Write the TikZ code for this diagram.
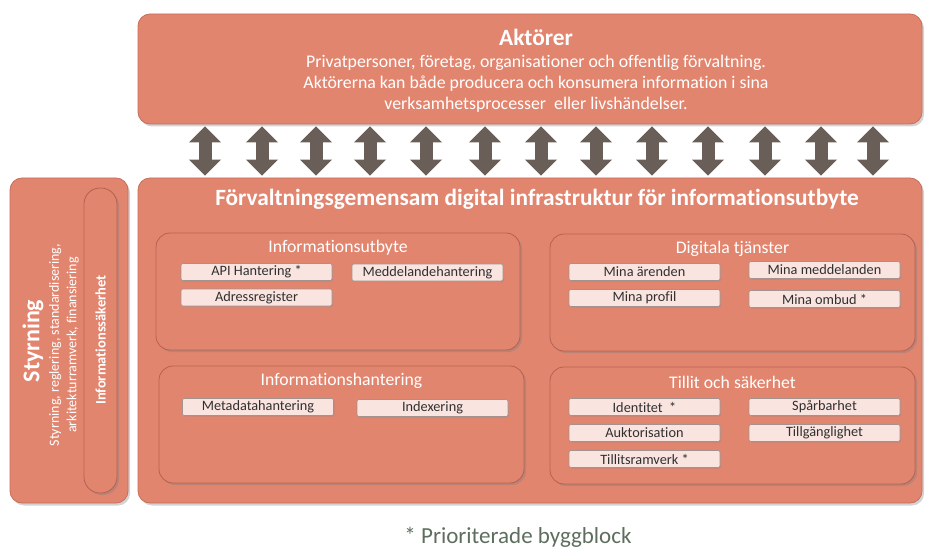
\documentclass[tikz,border=0pt]{standalone}
\usepackage{fontspec}
\setmainfont{Carlito}[Ligatures={NoCommon,NoContextual}]
\usepackage{xcolor}
\usetikzlibrary{shadows,arrows.meta}

\definecolor{laxrosa}{HTML}{E2856F}
\definecolor{laxkant}{HTML}{C66E5B}
\definecolor{delkant}{HTML}{B5614F}
\definecolor{ljusrosa}{HTML}{FAE4E0}
\definecolor{ljuskant}{HTML}{A3928D}
\definecolor{pilgra}{HTML}{6A5F58}
\definecolor{textgra}{HTML}{303030}
\definecolor{notgron}{HTML}{5E6E5E}

\begin{document}
\begin{tikzpicture}[x=1pt, y=-1pt,
  storlada/.style={draw=laxkant, line width=0.8pt, fill=laxrosa, rounded corners=12pt,
    drop shadow={shadow xshift=2pt, shadow yshift=-2.5pt, opacity=0.35},
    minimum width=784pt, inner sep=0pt},
  dellada/.style={draw=delkant, line width=0.8pt, fill=laxrosa, rounded corners=14pt,
    drop shadow={shadow xshift=2pt, shadow yshift=-2pt, opacity=0.4},
    minimum width=365pt, minimum height=117pt, inner sep=0pt},
  block/.style={draw=ljuskant, line width=0.6pt, fill=ljusrosa, rounded corners=2pt,
    drop shadow={shadow xshift=1pt, shadow yshift=-1pt, opacity=0.3},
    minimum width=151pt, minimum height=17pt, inner sep=0pt,
    font=\fontsize{14.3}{16}\selectfont, text=textgra},
  rubrik/.style={text=white, font=\bfseries\fontsize{23.3}{26}\selectfont},
  delrubrik/.style={text=white, font=\fontsize{17.7}{20}\selectfont},
  dubbelpil/.style={draw=pilgra, line width=13pt, shorten <=2pt, shorten >=2pt,
    {Triangle[width=32pt 0 0, length=16pt 0 0, line width=0pt 0 0]}-{Triangle[width=32pt 0 0, length=16pt 0 0, line width=0pt 0 0]}}]

  % Fixed frame of the page
  \useasboundingbox (0,0) rectangle (926,548);

  % Top box
  \node[storlada, minimum height=110pt] (akt) at (530,69) {};
  \node[rubrik] (akttitel) at (536,37) {Aktörer};
  \node[text=white, align=center, font=\fontsize{17.8}{21}\selectfont] (akttext) at (536,84)
    {Privatpersoner, företag, organisationer och offentlig förvaltning.\\
     Aktörerna kan både producera och konsumera information i sina\\
     verksamhetsprocesser\ \ eller livshändelser.};

  % Governance column
  \node[storlada, minimum width=118pt, minimum height=325pt] (styr) at (69,340.5) {};
  \node[draw=delkant, line width=0.8pt, fill=laxrosa, rounded corners=16pt,
    drop shadow={shadow xshift=2pt, shadow yshift=-2pt, opacity=0.4},
    minimum width=33pt, minimum height=305pt, inner sep=0pt] (sak) at (100.5,340.5) {};
  \node[rotate=90, text=white, font=\bfseries\fontsize{24}{28}\selectfont] (styrtitel) at (33,341) {Styrning};
  \node[rotate=90, text=white, align=center, font=\fontsize{14}{17.5}\selectfont] (styrtext) at (64,345)
    {Styrning, reglering, standardisering,\\ arkitekturramverk, finansiering};
  \node[rotate=90, text=white, font=\bfseries\fontsize{14.5}{17}\selectfont] (saktext) at (100.5,340) {Informationssäkerhet};

  % Main infrastructure box
  \node[storlada, minimum height=325pt] (infra) at (530,340.5) {};
  \node[rubrik] (infratitel) at (537,199) {Förvaltningsgemensam digital infrastruktur för informationsutbyte};

  % Arrows between actors and infrastructure
  \foreach \x in {205,262,316,370,426,485,541,596,652,708,765,821,873} {
    \path (\x,0) coordinate (px);
    \draw[dubbelpil] (akt.south -| px) -- (infra.north -| px);
  }

  % Inner boxes
  \node[dellada, minimum width=364pt] (utb) at (338,291.5) {};
  \node[delrubrik] (utbtitel) at (338,248) {Informationsutbyte};
  \node[dellada] (hant) at (341.5,424.5) {};
  \node[delrubrik] (hanttitel) at (341.5,381) {Informationshantering};
  \node[dellada] (dig) at (732.5,292.5) {};
  \node[delrubrik] (digtitel) at (732.5,249) {Digitala tjänster};
  \node[dellada] (till) at (732.5,425.5) {};
  \node[delrubrik] (tilltitel) at (732.5,382) {Tillit och säkerhet};

  % Building blocks
  \node[block] (api) at (256.5,272) {API Hantering *};
  \node[block] (medd) at (427.5,272.5) {Meddelandehantering};
  \node[block] (adr) at (256.5,297.5) {Adressregister};
  \node[block] (meta) at (258,407) {Metadatahantering};
  \node[block] (idx) at (432.5,408) {Indexering};
  \node[block] (arend) at (644.5,272) {Mina ärenden};
  \node[block] (mmedd) at (824.5,270) {Mina meddelanden};
  \node[block] (prof) at (644.5,298) {Mina profil};
  \node[block] (ombud) at (824.5,299) {Mina ombud *};
  \node[block] (ident) at (644.5,407) {Identitet\ \ *};
  \node[block] (spar) at (824.5,407) {Spårbarhet};
  \node[block] (auk) at (644.5,433) {Auktorisation};
  \node[block] (tillg) at (824.5,433) {Tillgänglighet};
  \node[block] (ram) at (644.5,459) {Tillitsramverk *};

  % Footnote
  \node[text=notgron, font=\fontsize{23}{26}\selectfont] (not) at (518,537) {* Prioriterade byggblock};
\end{tikzpicture}
\end{document}
